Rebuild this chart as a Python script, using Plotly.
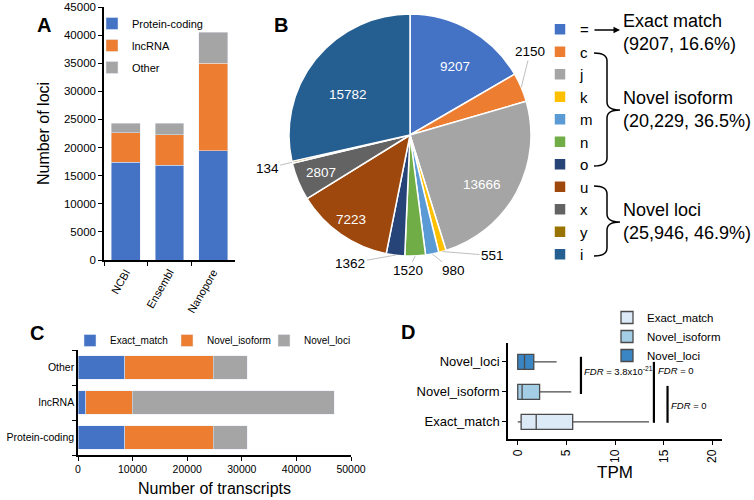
import math
import plotly.graph_objects as go

# ---------------- data ----------------
# Panel A: number of loci per annotation source
sources = ["NCBI", "Ensembl", "Nanopore"]
loci_protein = [17400, 16850, 19400]
loci_lncrna = [5200, 5450, 15600]
loci_other = [1700, 2000, 5500]

# Panel B: gffcompare class codes
classes = ["=", "c", "j", "k", "m", "n", "o", "u", "x", "y", "i"]
class_counts = [9207, 2150, 13666, 551, 980, 1520, 1362, 7223, 2807, 134, 15782]
class_colors = ["#4472C4", "#ED7D31", "#A5A5A5", "#FFC000", "#5B9BD5", "#70AD47",
                "#264478", "#9E480E", "#636363", "#997300", "#255E91"]
group_notes = ["Exact match<br>(9207, 16.6%)",
               "Novel isoform<br>(20,229, 36.5%)",
               "Novel loci<br>(25,946, 46.9%)"]

# Panel C: transcripts per biotype
biotypes = ["Protein-coding", "lncRNA", "Other"]
tx_exact = [8600, 1450, 8600]
tx_isoform = [16200, 8450, 16200]
tx_loci = [6200, 37000, 6200]

# Panel D: TPM box statistics
groups = ["Exact_match", "Novel_isoform", "Novel_loci"]
tpm_lower = [0.0, 0.0, 0.0]
tpm_q1 = [0.35, 0.0, 0.0]
tpm_median = [1.9, 0.45, 0.7]
tpm_q3 = [5.65, 2.25, 1.65]
tpm_upper = [13.5, 5.5, 4.0]
fdr_texts = ["<i>FDR</i> = 3.8x10<sup>-21</sup>", "<i>FDR</i> = 0", "<i>FDR</i> = 0"]

# ---------------- layout helpers ----------------
W, H = 754, 500
FONT = "Liberation Sans, Arial, sans-serif"
box_fill = ["#DCE9F6", "#A4CDE6", "#3A86C4"]


def px(x):
    return x / W


def py(y):
    return 1 - y / H


fig = go.Figure()

# Panel A
for name, vals, col in [("Protein-coding", loci_protein, "#4472C4"),
                        ("lncRNA", loci_lncrna, "#ED7D31"),
                        ("Other", loci_other, "#A5A5A5")]:
    fig.add_trace(go.Bar(x=sources, y=vals, name=name, marker_color=col,
                         xaxis="x", yaxis="y", legend="legend", legendgroup=name))

# Panel B
PIE_CX, PIE_CY, PIE_R = 410, 135, 121
fig.add_trace(go.Pie(
    labels=classes, values=class_counts, sort=False, direction="clockwise", rotation=0,
    marker=dict(colors=class_colors, line=dict(color="white", width=1.5)),
    textinfo="none",
    domain=dict(x=[px(PIE_CX - PIE_R), px(PIE_CX + PIE_R)],
                y=[py(PIE_CY + PIE_R), py(PIE_CY - PIE_R)]),
    legend="legend2", hoverinfo="label+value"))

# Panel C
for name, vals, col in [("Exact_match", tx_exact, "#4472C4"),
                        ("Novel_isoform", tx_isoform, "#ED7D31"),
                        ("Novel_loci", tx_loci, "#A5A5A5")]:
    fig.add_trace(go.Bar(y=biotypes, x=vals, name=name, orientation="h", marker_color=col,
                         xaxis="x2", yaxis="y2", legend="legend3"))

# Panel D
for i, g in enumerate(groups):
    fig.add_trace(go.Box(
        y=[g], q1=[tpm_q1[i]], median=[tpm_median[i]], q3=[tpm_q3[i]],
        lowerfence=[tpm_lower[i]], upperfence=[tpm_upper[i]],
        orientation="h", name=g, fillcolor=box_fill[i],
        line=dict(color="#4A4A4A", width=1.3), whiskerwidth=0,
        xaxis="x3", yaxis="y3", legend="legend4"))

annotations = []
shapes = []

# panel letters
for letter, x, y in [("A", 35, 12), ("B", 281, 12), ("C", 28, 333), ("D", 408, 332)]:
    annotations.append(dict(text=f"<b>{letter}</b>", x=px(x), y=py(y), xref="paper", yref="paper",
                            showarrow=False, font=dict(size=20, family=FONT, color="black")))

# pie value labels: inside (radial fraction) or outside with leader line (pixel offset)
inside_radius = {"=": 0.74, "j": 0.87, "u": 0.85, "x": 0.80, "i": 0.66}
label_offsets = {"c": (9, -36), "k": (50, 4), "m": (21, 17), "n": (-7, 15), "o": (-45, 8), "y": (-25, 6)}
total = sum(class_counts)
cum = 0
for c, v in zip(classes, class_counts):
    mid = (cum + v / 2) / total * 2 * math.pi
    cum += v
    if c in inside_radius:
        rr = PIE_R * inside_radius[c]
        annotations.append(dict(text=str(v), x=px(PIE_CX + rr * math.sin(mid)),
                                y=py(PIE_CY - rr * math.cos(mid)), xref="paper", yref="paper",
                                showarrow=False, font=dict(size=13.5, family=FONT, color="white")))
    elif c in label_offsets:
        ex = PIE_CX + PIE_R * math.sin(mid)
        ey = PIE_CY - PIE_R * math.cos(mid)
        ax, ay = label_offsets[c]
        annotations.append(dict(text=str(v), x=px(ex), y=py(ey), xref="paper", yref="paper",
                                showarrow=True, arrowhead=0, arrowwidth=1, arrowcolor="#BFBFBF",
                                ax=ax, ay=ay, standoff=0,
                                font=dict(size=13.5, family=FONT, color="black")))

# right-hand group notes
for txt, y in zip(group_notes, [32, 110, 222]):
    annotations.append(dict(text=txt, x=px(621), y=py(y), xref="paper", yref="paper",
                            xanchor="left", yanchor="middle", align="left", showarrow=False,
                            font=dict(size=18, family=FONT, color="black")))
annotations.append(dict(text="", x=px(620), y=py(30), xref="paper", yref="paper",
                        showarrow=True, arrowhead=2, arrowsize=1, arrowwidth=1.3,
                        arrowcolor="black", ax=-27, ay=0))


def brace(x0, xm, xt, y0, ym, y1, r=8):
    pts = [
        f"M {px(x0)},{py(y0)}",
        f"Q {px(xm)},{py(y0)} {px(xm)},{py(y0 + r)}",
        f"L {px(xm)},{py(ym - r)}",
        f"Q {px(xm)},{py(ym)} {px(xt)},{py(ym)}",
        f"Q {px(xm)},{py(ym)} {px(xm)},{py(ym + r)}",
        f"L {px(xm)},{py(y1 - r)}",
        f"Q {px(xm)},{py(y1)} {px(x0)},{py(y1)}",
    ]
    return " ".join(pts)


for y0, ym, y1 in [(53, 110, 166), (186, 222, 256)]:
    shapes.append(dict(type="path", path=brace(594, 607, 620, y0, ym, y1), xref="paper", yref="paper",
                       line=dict(color="black", width=1.5)))

# FDR brackets (panel D, in data units)
fdr_lines = [(6.5, 0.93, 2.17), (14.0, -0.03, 2.0), (15.4, -0.03, 1.2)]
for xv, ya, yb in fdr_lines:
    shapes.append(dict(type="line", x0=xv, x1=xv, y0=ya, y1=yb, xref="x3", yref="y3",
                       line=dict(color="black", width=2.2)))
fdr_pos = [(6.6, 1.7), (14.2, 1.7), (15.6, 0.55)]
for txt, (xv, yv) in zip(fdr_texts, fdr_pos):
    annotations.append(dict(text=txt, x=xv, y=yv, xref="x3", yref="y3", xanchor="left",
                            showarrow=False, font=dict(size=9.5, family=FONT, color="black")))

axis_common = dict(showline=True, linecolor="black", linewidth=1.5, ticks="outside",
                   tickcolor="black", ticklen=4, showgrid=False, zeroline=False,
                   tickfont=dict(family=FONT, color="black"))

fig.update_layout(
    width=W, height=H,
    margin=dict(l=0, r=0, t=0, b=0, pad=0, autoexpand=False),
    paper_bgcolor="white", plot_bgcolor="white",
    font=dict(family=FONT, color="black"),
    barmode="stack", bargap=0.34,
    boxgap=0.28,
    xaxis=dict(axis_common, domain=[px(104), px(235)], anchor="y", tickangle=-60,
               tickson="boundaries", tickfont=dict(size=11, family=FONT, color="black")),
    yaxis=dict(axis_common, domain=[py(260), py(7)], anchor="x", range=[0, 45000], dtick=5000,
               tickformat="d", tickfont=dict(size=11.5, family=FONT, color="black"),
               title=dict(text="Number of loci", font=dict(size=16, family=FONT), standoff=10)),
    xaxis2=dict(axis_common, domain=[px(78), px(351)], anchor="y2", range=[0, 50000], dtick=10000,
                tickformat="d", tickfont=dict(size=10.5, family=FONT, color="black"),
                title=dict(text="Number of transcripts", font=dict(size=16, family=FONT), standoff=8)),
    yaxis2=dict(axis_common, domain=[py(455), py(350)], anchor="x2", tickson="boundaries",
                tickfont=dict(size=10.5, family=FONT, color="black")),
    xaxis3=dict(axis_common, domain=[px(508), px(722)], anchor="y3", range=[-1, 21],
                tickvals=[0, 5, 10, 15, 20], tickangle=-90,
                tickfont=dict(size=12, family=FONT, color="black"),
                title=dict(text="TPM", font=dict(size=17, family=FONT), standoff=4)),
    yaxis3=dict(axis_common, domain=[py(439), py(343)], anchor="x3", type="category",
                categoryorder="array", categoryarray=groups, range=[-0.57, 2.63],
                tickfont=dict(size=13, family=FONT, color="black")),
    legend=dict(x=px(92), y=py(9), xanchor="left", yanchor="top", traceorder="grouped",
                tracegroupgap=3, font=dict(size=11, family=FONT), bgcolor="rgba(0,0,0,0)"),
    legend2=dict(x=px(540), y=py(13), xanchor="left", yanchor="top", traceorder="normal",
                 font=dict(size=15, family=FONT), bgcolor="rgba(0,0,0,0)"),
    legend3=dict(x=px(70), y=py(326), xanchor="left", yanchor="top", orientation="h",
                 entrywidth=52, entrywidthmode="pixels",
                 traceorder="normal", font=dict(size=10, family=FONT), bgcolor="rgba(0,0,0,0)"),
    legend4=dict(x=px(607), y=py(303), xanchor="left", yanchor="top", traceorder="normal",
                 font=dict(size=11.5, family=FONT), bgcolor="rgba(0,0,0,0)"),
    annotations=annotations,
    shapes=shapes,
)

# the page body has an 8px default margin; remove it so the figure fills the window exactly
fig.write_html("out.html", config={"displayModeBar": False},
               post_script="document.body.style.margin='0px';")
